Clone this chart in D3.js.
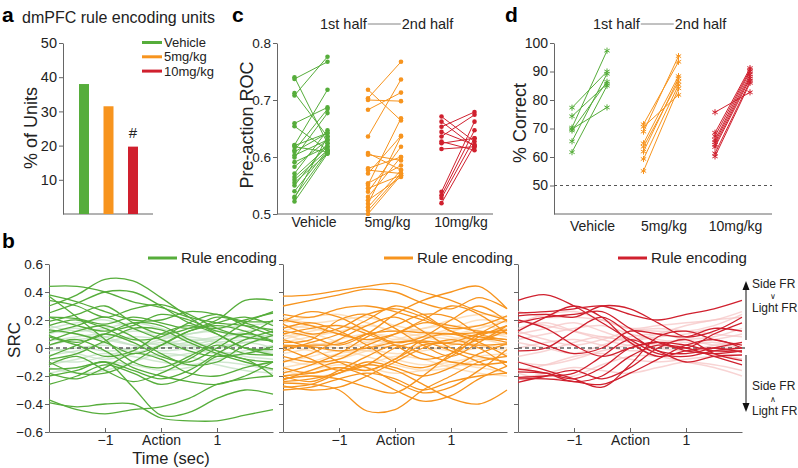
<!DOCTYPE html>
<html lang="en">
<head>
  <meta charset="UTF-8">
  <title>dmPFC rule encoding</title>
  <style>
  body { margin: 0; background: #fff; }
  svg { display: block; font-family: "Liberation Sans", Arial, Helvetica, sans-serif; }
  .axis path, .axis line { stroke: #666; }
  .axis text { fill: #222; }
  </style>
</head>
<body>
  <svg></svg>
  <script src="https://cdn.jsdelivr.net/npm/d3@7/dist/d3.min.js"></script>
  <script>
  var groups = ["Vehicle", "5mg/kg", "10mg/kg"];
  var colors = ["#56ad3b", "#f7941e", "#d0202e"];
  var faintColors = ["#c2e0c2", "#fcd6a8", "#f5c6c6"];

  // a: % of rule encoding units
  var unitPercent = [38, 31.5, 19.7];
  var unitTicks = [10, 20, 30, 40, 50];

  // c: pre-action ROC, 1st half vs 2nd half
  var rocTicks = [0.5, 0.6, 0.7, 0.8];
  var rocVehicleFirst = [0.740, 0.737, 0.712, 0.708, 0.659, 0.654, 0.621, 0.618, 0.609, 0.599, 0.591, 0.583, 0.571, 0.560, 0.555, 0.550, 0.530, 0.528, 0.522, 0.612, 0.565, 0.603, 0.540, 0.620];
  var rocVehicleSecond = [0.624, 0.767, 0.636, 0.776, 0.687, 0.612, 0.718, 0.609, 0.642, 0.677, 0.618, 0.630, 0.647, 0.612, 0.606, 0.624, 0.609, 0.636, 0.606, 0.684, 0.618, 0.630, 0.612, 0.642];
  var rocLowFirst = [0.718, 0.703, 0.700, 0.683, 0.636, 0.607, 0.604, 0.580, 0.577, 0.571, 0.554, 0.551, 0.545, 0.539, 0.530, 0.524, 0.518, 0.512, 0.506, 0.500];
  var rocLowSecond = [0.664, 0.767, 0.698, 0.713, 0.736, 0.577, 0.594, 0.600, 0.571, 0.637, 0.585, 0.668, 0.568, 0.618, 0.600, 0.565, 0.636, 0.577, 0.571, 0.568];
  var rocHighFirst = [0.671, 0.662, 0.653, 0.644, 0.636, 0.627, 0.624, 0.614, 0.539, 0.533, 0.528, 0.519];
  var rocHighSecond = [0.627, 0.618, 0.679, 0.621, 0.674, 0.612, 0.633, 0.618, 0.662, 0.647, 0.633, 0.621];

  // d: % correct, 1st half vs 2nd half
  var correctTicks = [50, 60, 70, 80, 90, 100];
  var correctVehicleFirst = [77.3, 74.3, 70.3, 69.8, 69.3, 65.5, 61.7];
  var correctVehicleSecond = [90.0, 85.7, 97.3, 77.4, 86.4, 89.2, 85.0];
  var correctLowFirst = [71.5, 70.6, 68.9, 64.8, 63.6, 61.9, 59.3, 55.1];
  var correctLowSecond = [93.4, 81.8, 95.4, 88.4, 86.4, 87.6, 85.3, 84.1];
  var correctHighFirst = [75.7, 68.5, 67.3, 66.0, 65.2, 64.3, 63.5, 61.3, 60.2];
  var correctHighSecond = [82.7, 91.2, 90.6, 90.0, 89.0, 88.2, 87.5, 86.6, 86.0];

  // b: SRC time courses (sec relative to action)
  var srcTimes = [-2, -1.5, -1, -0.5, 0, 0.5, 1, 1.5, 2];
  var srcTicks = [-0.6, -0.4, -0.2, 0, 0.2, 0.4, 0.6];
  var timeTicks = [-1, 0, 1];

  var vehicleRule = [
    [0.44, 0.44, 0.40, 0.33, 0.29, 0.22, 0.18, 0.16, 0.13],
    [0.30, 0.38, 0.49, 0.48, 0.36, 0.22, 0.10, 0.00, -0.05],
    [0.38, 0.33, 0.26, 0.20, 0.20, 0.26, 0.24, 0.19, 0.19],
    [0.34, 0.30, 0.22, 0.28, 0.31, 0.24, 0.14, 0.08, 0.05],
    [0.25, 0.32, 0.40, 0.40, 0.30, 0.18, 0.14, 0.20, 0.25],
    [0.22, 0.21, 0.17, 0.22, 0.18, 0.14, 0.20, 0.34, 0.34],
    [0.19, 0.24, 0.30, 0.18, 0.10, 0.14, 0.22, 0.18, 0.11],
    [0.13, 0.10, 0.04, -0.04, 0.02, 0.12, 0.18, 0.22, 0.16],
    [0.37, 0.22, 0.06, -0.10, -0.14, -0.06, 0.05, 0.18, 0.26],
    [0.11, 0.16, 0.22, 0.14, 0.06, -0.02, -0.06, -0.04, 0.01],
    [0.09, 0.04, 0.10, 0.18, 0.16, 0.06, -0.02, -0.08, -0.10],
    [0.05, 0.12, 0.16, 0.08, -0.04, -0.12, -0.10, 0.02, 0.09],
    [-0.08, -0.04, 0.05, 0.14, 0.13, 0.04, -0.04, -0.10, -0.15],
    [-0.10, -0.18, -0.18, -0.10, 0.02, 0.12, 0.16, 0.12, 0.04],
    [-0.15, -0.14, -0.10, -0.16, -0.22, -0.16, -0.04, 0.06, 0.12],
    [-0.18, -0.22, -0.14, -0.04, -0.08, -0.18, -0.20, -0.14, -0.10],
    [-0.26, -0.20, -0.12, -0.18, -0.26, -0.20, -0.06, -0.08, -0.20],
    [-0.12, -0.06, -0.16, -0.24, -0.18, -0.08, 0.02, -0.04, -0.05],
    [-0.37, -0.44, -0.47, -0.44, -0.42, -0.36, -0.26, -0.22, -0.20],
    [-0.39, -0.42, -0.40, -0.40, -0.50, -0.52, -0.52, -0.48, -0.44],
    [-0.20, -0.16, -0.10, -0.28, -0.48, -0.46, -0.36, -0.30, -0.33],
    [0.02, 0.06, -0.02, -0.14, -0.20, -0.24, -0.26, -0.20, -0.10],
    [0.08, 0.02, -0.06, -0.02, 0.10, 0.16, 0.10, 0.00, -0.01],
    [0.22, 0.16, 0.12, 0.16, 0.24, 0.20, 0.12, 0.10, 0.20],
    [-0.06, 0.02, 0.10, 0.04, -0.06, -0.10, 0.00, 0.10, 0.05],
    [0.16, 0.20, 0.14, 0.06, 0.08, 0.18, 0.24, 0.16, 0.09]
  ];
  var vehicleOther = [
    [0.05, 0.08, 0.10, 0.06, 0.02, 0.04, 0.08, 0.10, 0.08],
    [-0.05, -0.02, 0.04, 0.08, 0.06, 0.00, -0.04, -0.02, 0.02],
    [0.12, 0.10, 0.06, 0.02, 0.00, 0.02, 0.06, 0.12, 0.14],
    [-0.12, -0.08, -0.04, -0.06, -0.10, -0.12, -0.08, -0.04, -0.02],
    [0.00, -0.04, -0.08, -0.04, 0.02, 0.06, 0.04, 0.00, -0.04],
    [0.16, 0.12, 0.14, 0.18, 0.14, 0.08, 0.06, 0.08, 0.12],
    [-0.18, -0.14, -0.10, -0.12, -0.16, -0.14, -0.10, -0.12, -0.16],
    [0.08, 0.02, -0.02, 0.00, 0.06, 0.10, 0.12, 0.08, 0.06],
    [-0.08, -0.10, -0.06, 0.00, 0.04, 0.02, -0.02, -0.06, -0.08],
    [0.02, 0.06, 0.08, 0.12, 0.10, 0.06, 0.00, 0.04, 0.06],
    [-0.14, -0.18, -0.16, -0.10, -0.04, -0.06, -0.12, -0.16, -0.18],
    [0.10, 0.14, 0.08, 0.02, -0.02, 0.00, 0.04, 0.06, 0.10],
    [-0.02, 0.00, 0.02, -0.02, -0.06, -0.04, 0.00, 0.04, 0.00],
    [0.14, 0.18, 0.20, 0.14, 0.08, 0.10, 0.14, 0.16, 0.18]
  ];

  var lowDoseRule = [
    [0.37, 0.38, 0.41, 0.44, 0.46, 0.40, 0.34, 0.26, 0.20],
    [0.30, 0.34, 0.38, 0.42, 0.40, 0.32, 0.28, 0.36, 0.28],
    [0.12, 0.08, 0.02, 0.10, 0.24, 0.34, 0.40, 0.44, 0.28],
    [0.24, 0.22, 0.28, 0.30, 0.26, 0.20, 0.14, 0.16, 0.23],
    [0.19, 0.26, 0.22, 0.12, 0.04, 0.08, 0.20, 0.30, 0.19],
    [0.17, 0.10, 0.14, 0.24, 0.28, 0.22, 0.12, 0.06, 0.13],
    [0.04, 0.06, 0.20, 0.24, 0.14, 0.02, -0.06, 0.04, 0.16],
    [0.01, 0.02, 0.03, 0.10, 0.12, 0.11, 0.10, 0.11, 0.11],
    [0.02, 0.01, -0.02, 0.00, 0.04, 0.05, 0.03, 0.02, 0.03],
    [-0.18, -0.12, -0.04, 0.08, 0.16, 0.24, 0.22, 0.10, 0.06],
    [-0.20, -0.24, -0.16, -0.06, 0.02, -0.04, -0.10, -0.12, -0.10],
    [-0.22, -0.20, -0.22, -0.28, -0.32, -0.20, -0.04, 0.10, 0.20],
    [-0.25, -0.26, -0.30, -0.45, -0.44, -0.30, -0.20, -0.10, -0.06],
    [-0.27, -0.30, -0.28, -0.20, -0.10, 0.00, 0.06, 0.00, -0.13],
    [-0.28, -0.26, -0.18, -0.12, -0.16, -0.26, -0.36, -0.40, -0.30],
    [-0.30, -0.28, -0.22, -0.18, -0.22, -0.30, -0.24, -0.20, -0.18],
    [-0.23, -0.16, -0.10, -0.14, -0.24, -0.32, -0.28, -0.16, -0.01],
    [0.10, 0.14, 0.16, 0.10, 0.02, -0.08, -0.04, 0.06, 0.04],
    [0.14, 0.18, 0.12, 0.02, -0.10, -0.14, -0.06, 0.08, 0.16],
    [-0.06, -0.10, -0.08, 0.02, 0.10, 0.20, 0.30, 0.24, 0.10],
    [-0.14, -0.18, -0.14, -0.16, -0.08, 0.06, 0.10, 0.04, -0.06],
    [-0.10, -0.04, 0.06, 0.16, 0.22, 0.12, 0.00, -0.06, -0.10],
    [-0.24, -0.22, -0.18, -0.10, -0.14, -0.20, -0.14, -0.04, 0.03],
    [0.06, 0.00, -0.10, -0.16, -0.08, 0.02, 0.04, 0.10, 0.13],
    [-0.02, 0.04, 0.10, 0.20, 0.30, 0.24, 0.12, 0.08, 0.06],
    [0.00, -0.08, -0.16, -0.12, 0.00, 0.04, -0.02, -0.10, -0.18],
    [-0.20, -0.18, -0.14, -0.20, -0.30, -0.38, -0.34, -0.22, -0.13],
    [0.20, 0.16, 0.10, 0.06, 0.10, 0.18, 0.16, 0.12, 0.11]
  ];
  var lowDoseOther = [
    [0.08, 0.12, 0.16, 0.12, 0.06, 0.08, 0.12, 0.16, 0.12],
    [-0.04, 0.00, 0.06, 0.10, 0.08, 0.02, -0.02, 0.00, 0.04],
    [0.16, 0.14, 0.10, 0.06, 0.04, 0.08, 0.14, 0.20, 0.18],
    [-0.14, -0.10, -0.04, -0.02, -0.08, -0.12, -0.10, -0.06, -0.04],
    [0.02, -0.02, -0.06, 0.00, 0.06, 0.10, 0.08, 0.02, -0.02],
    [0.22, 0.18, 0.20, 0.22, 0.16, 0.12, 0.10, 0.14, 0.20],
    [-0.20, -0.16, -0.12, -0.14, -0.18, -0.16, -0.12, -0.14, -0.18],
    [0.10, 0.04, 0.00, 0.04, 0.10, 0.14, 0.16, 0.12, 0.08],
    [-0.08, -0.12, -0.08, -0.02, 0.04, 0.04, 0.00, -0.06, -0.10],
    [0.04, 0.08, 0.12, 0.16, 0.12, 0.08, 0.04, 0.08, 0.10],
    [-0.16, -0.20, -0.18, -0.12, -0.06, -0.08, -0.14, -0.18, -0.20],
    [0.12, 0.16, 0.10, 0.04, 0.00, 0.02, 0.06, 0.10, 0.14],
    [0.00, 0.02, 0.04, 0.00, -0.04, -0.02, 0.02, 0.06, 0.02],
    [0.18, 0.22, 0.24, 0.18, 0.12, 0.14, 0.20, 0.24, 0.22],
    [-0.10, -0.06, -0.02, -0.06, -0.12, -0.16, -0.14, -0.08, -0.06],
    [0.06, 0.10, 0.04, -0.02, 0.02, 0.08, 0.06, 0.02, 0.00]
  ];

  var highDoseRule = [
    [0.34, 0.38, 0.30, 0.18, 0.06, -0.04, -0.06, -0.02, 0.00],
    [0.25, 0.26, 0.28, 0.30, 0.24, 0.20, 0.24, 0.28, 0.34],
    [0.23, 0.24, 0.22, 0.30, 0.28, 0.18, 0.08, 0.12, 0.22],
    [0.18, 0.22, 0.24, 0.26, 0.14, 0.04, 0.00, 0.10, 0.18],
    [0.09, 0.02, -0.04, 0.00, 0.12, 0.10, 0.08, 0.14, 0.12],
    [-0.02, 0.00, 0.12, 0.22, 0.10, -0.02, -0.04, 0.00, 0.04],
    [-0.10, -0.16, -0.22, -0.28, -0.12, 0.08, 0.12, 0.06, 0.02],
    [-0.17, -0.18, -0.22, -0.14, 0.00, 0.04, -0.02, -0.04, -0.02],
    [-0.21, -0.20, -0.18, -0.06, 0.06, -0.02, -0.10, -0.06, -0.05],
    [-0.22, -0.22, -0.24, -0.26, -0.18, -0.08, 0.02, 0.06, 0.00],
    [-0.245, -0.20, -0.16, -0.22, -0.14, 0.00, 0.06, -0.04, -0.09],
    [0.12, 0.22, 0.30, 0.22, 0.04, -0.06, -0.02, 0.00, -0.03],
    [-0.15, -0.18, -0.24, -0.20, -0.06, 0.02, 0.00, -0.06, -0.12],
    [0.20, 0.14, 0.02, -0.06, 0.00, 0.04, 0.02, -0.02, -0.02]
  ];
  var highDoseOther = [
    [0.10, 0.14, 0.18, 0.12, 0.06, 0.08, 0.10, 0.14, 0.12],
    [-0.06, -0.02, 0.04, 0.08, 0.04, 0.00, -0.02, 0.02, 0.04],
    [0.20, 0.16, 0.12, 0.08, 0.06, 0.10, 0.16, 0.20, 0.22],
    [-0.16, -0.12, -0.06, -0.04, -0.08, -0.10, -0.08, -0.06, -0.08],
    [0.04, 0.00, -0.04, 0.02, 0.08, 0.10, 0.06, 0.02, 0.00],
    [0.26, 0.22, 0.22, 0.20, 0.14, 0.12, 0.12, 0.16, 0.24],
    [-0.22, -0.18, -0.14, -0.16, -0.18, -0.14, -0.10, -0.12, -0.16],
    [0.12, 0.06, 0.02, 0.06, 0.12, 0.14, 0.12, 0.10, 0.08],
    [-0.10, -0.12, -0.08, -0.02, 0.02, 0.02, -0.02, -0.04, -0.08],
    [0.06, 0.10, 0.14, 0.16, 0.10, 0.06, 0.04, 0.06, 0.10],
    [-0.18, -0.22, -0.20, -0.12, -0.06, -0.06, -0.10, -0.14, -0.20],
    [0.14, 0.18, 0.12, 0.06, 0.02, 0.04, 0.06, 0.08, 0.14],
    [0.00, 0.04, 0.06, 0.02, -0.02, 0.00, 0.02, 0.04, 0.00],
    [0.18, 0.24, 0.26, 0.20, 0.14, 0.16, 0.18, 0.20, 0.26]
  ];

  var rocPairs = [
    [rocVehicleFirst, rocVehicleSecond],
    [rocLowFirst, rocLowSecond],
    [rocHighFirst, rocHighSecond]
  ];
  var correctPairs = [
    [correctVehicleFirst, correctVehicleSecond],
    [correctLowFirst, correctLowSecond],
    [correctHighFirst, correctHighSecond]
  ];
  var ruleSets = [vehicleRule, lowDoseRule, highDoseRule];
  var otherSets = [vehicleOther, lowDoseOther, highDoseOther];

  var svg = d3.select("svg")
      .attr("width", 798)
      .attr("height", 468);
  svg.append("rect").attr("width", 798).attr("height", 468).attr("fill", "#fff");

  function styleAxis(g, size) {
    g.attr("font-family", null).attr("font-size", size);
    g.selectAll("path, line").attr("stroke", "#666");
    g.selectAll("text").attr("fill", "#222");
  }

  function panelLetter(letter, x, y) {
    svg.append("text").attr("x", x).attr("y", y)
      .attr("font-size", 21).attr("font-weight", "bold").text(letter);
  }

  function yLabel(text, x, y, size) {
    svg.append("text")
      .attr("transform", "translate(" + x + "," + y + ") rotate(-90)")
      .attr("text-anchor", "middle")
      .attr("font-size", size)
      .attr("fill", "#222")
      .text(text);
  }

  // ---------- a ----------
  panelLetter("a", 2, 22);
  svg.append("text").attr("x", 22).attr("y", 23).attr("font-size", 16).attr("fill", "#222")
    .text("dmPFC rule encoding units");

  var aY = d3.scaleLinear().domain([0, 50]).range([214, 43]);
  var aX = d3.scalePoint().domain(groups).range([84, 133]);

  svg.append("g").attr("transform", "translate(63,0)")
    .call(d3.axisLeft(aY).tickValues(unitTicks).tickSize(4).tickSizeOuter(0).tickPadding(2))
    .call(g => styleAxis(g, 14.5));
  svg.append("line").attr("x1", 63).attr("x2", 153).attr("y1", 214).attr("y2", 214)
    .attr("stroke", "#666");

  svg.selectAll(".bar")
    .data(unitPercent)
    .enter()
    .append("rect")
      .attr("class", "bar")
      .attr("x", (d, i) => aX(groups[i]) - 5)
      .attr("width", 10)
      .attr("y", d => aY(d))
      .attr("height", d => aY(0) - aY(d))
      .attr("fill", (d, i) => colors[i]);

  svg.append("text")
    .attr("x", aX(groups[2])).attr("y", aY(unitPercent[2]) - 9)
    .attr("text-anchor", "middle").attr("font-size", 15).attr("fill", "#222")
    .text("#");

  yLabel("% of Units", 37, 128, 18);

  groups.forEach(function(name, i) {
    var ly = 42.5 + i * 14.3;
    svg.append("line").attr("x1", 142).attr("x2", 162).attr("y1", ly).attr("y2", ly)
      .attr("stroke", colors[i]).attr("stroke-width", 3);
    svg.append("text").attr("x", 164).attr("y", ly + 4.5).attr("font-size", 13).attr("fill", "#222")
      .text(name);
  });

  // ---------- c & d (paired 1st/2nd half) ----------
  function halfHeader(x, y) {
    var t1 = svg.append("text").attr("x", x).attr("y", y).attr("font-size", 14.5).attr("fill", "#222")
      .text("1st half");
    var w = t1.node().getComputedTextLength();
    svg.append("line").attr("x1", x + w + 1).attr("x2", x + w + 34)
      .attr("y1", y - 5).attr("y2", y - 5).attr("stroke", "#666").attr("stroke-width", 0.8);
    svg.append("text").attr("x", x + w + 35).attr("y", y).attr("font-size", 14.5).attr("fill", "#222")
      .text("2nd half");
  }

  function pairedPanel(opts) {
    var y = d3.scaleLinear().domain(opts.domain).range([214, 43]);
    var x = d3.scalePoint().domain(groups).range(opts.centers);
    var off = opts.offset;

    svg.append("g").attr("transform", "translate(" + opts.axisX + ",0)")
      .call(d3.axisLeft(y).tickValues(opts.ticks).tickFormat(opts.format).tickSize(4).tickSizeOuter(0).tickPadding(2))
      .call(g => styleAxis(g, opts.tickSize));
    svg.append("line").attr("x1", opts.axisX).attr("x2", opts.axisEnd).attr("y1", 214).attr("y2", 214)
      .attr("stroke", "#666");

    if (opts.chance !== undefined) {
      svg.append("line").attr("x1", opts.axisX).attr("x2", opts.axisEnd)
        .attr("y1", y(opts.chance)).attr("y2", y(opts.chance))
        .attr("stroke", "#555").attr("stroke-dasharray", "3,3");
    }

    opts.pairs.forEach(function(pair, gi) {
      var cx = x(groups[gi]);
      var g = svg.append("g");
      var rows = pair[0].map((v, k) => ({ a: v, b: pair[1][k] }));
      g.selectAll("line")
        .data(rows)
        .enter()
        .append("line")
          .attr("x1", cx - off).attr("x2", cx + off)
          .attr("y1", d => y(d.a)).attr("y2", d => y(d.b))
          .attr("stroke", colors[gi]).attr("stroke-width", 1);
      var pts = [];
      rows.forEach(function(d) { pts.push([cx - off, y(d.a)]); pts.push([cx + off, y(d.b)]); });
      if (opts.star) {
        g.selectAll("path")
          .data(pts)
          .enter()
          .append("path")
            .attr("transform", d => "translate(" + d[0] + "," + d[1] + ")")
            .attr("d", d3.symbol(d3.symbolAsterisk, 26))
            .attr("fill", "none").attr("stroke", colors[gi]).attr("stroke-width", 1);
      } else {
        g.selectAll("circle")
          .data(pts)
          .enter()
          .append("circle")
            .attr("cx", d => d[0]).attr("cy", d => d[1]).attr("r", 2.3)
            .attr("fill", colors[gi]);
      }
      svg.append("text").attr("x", cx + 3).attr("y", opts.labelY)
        .attr("text-anchor", "middle").attr("font-size", 14).attr("fill", "#222")
        .text(groups[gi]);
    });
  }

  panelLetter("c", 232, 22);
  halfHeader(320, 29);
  pairedPanel({
    domain: [0.5, 0.8], ticks: rocTicks, format: d3.format(".1f"), tickSize: 13.5,
    axisX: 277, axisEnd: 493, centers: [311, 458], offset: 16.5,
    pairs: rocPairs, star: false, labelY: 227
  });
  yLabel("Pre-action ROC", 253, 125, 18);

  panelLetter("d", 505, 22);
  halfHeader(593, 29);
  pairedPanel({
    domain: [40, 100], ticks: correctTicks, format: d3.format("d"), tickSize: 14,
    axisX: 554, axisEnd: 772, centers: [589.5, 732.5], offset: 17.5,
    pairs: correctPairs, star: true, labelY: 231, chance: 50
  });
  yLabel("% Correct", 526, 123, 18);

  // ---------- b ----------
  panelLetter("b", 2, 248);
  var bY = d3.scaleLinear().domain([-0.6, 0.6]).range([432, 264]);
  var panelLeft = [49, 283, 518];

  panelLeft.forEach(function(x0, i) {
    var bX = d3.scaleLinear().domain([-2, 2]).range([x0, x0 + 224]);
    var line = d3.line()
      .x((d, k) => bX(srcTimes[k]))
      .y(d => bY(d))
      .curve(d3.curveCatmullRom.alpha(0.5));

    svg.append("g").attr("transform", "translate(" + x0 + ",0)")
      .call(d3.axisLeft(bY).tickValues(srcTicks).tickSize(4).tickSizeOuter(0).tickPadding(2)
        .tickFormat(i === 0 ? (d => d === 0 ? "0" : d3.format(".1f")(d)) : ""))
      .call(g => styleAxis(g, 13.5));

    svg.append("g").attr("transform", "translate(0,432)")
      .call(d3.axisBottom(bX).tickValues(timeTicks).tickSizeInner(-4).tickSizeOuter(0).tickPadding(3)
        .tickFormat(d => d === 0 ? "Action" : d3.format("d")(d)))
      .call(g => styleAxis(g, 14));

    svg.append("g")
      .selectAll("path")
      .data(otherSets[i])
      .enter()
      .append("path")
        .attr("d", line)
        .attr("fill", "none")
        .attr("stroke", faintColors[i])
        .attr("stroke-opacity", 0.75)
        .attr("stroke-width", 1.5);

    svg.append("line")
      .attr("x1", x0).attr("x2", i === 2 ? 745 : x0 + 224)
      .attr("y1", bY(0)).attr("y2", bY(0))
      .attr("stroke", "#111").attr("stroke-dasharray", "4,3");

    svg.append("g")
      .selectAll("path")
      .data(ruleSets[i])
      .enter()
      .append("path")
        .attr("d", line)
        .attr("fill", "none")
        .attr("stroke", colors[i])
        .attr("stroke-width", 1.3);

    var lx = [148, 384, 618][i];
    svg.append("line").attr("x1", lx).attr("x2", lx + 29).attr("y1", 258).attr("y2", 258)
      .attr("stroke", colors[i]).attr("stroke-width", 3);
    svg.append("text").attr("x", lx + 33).attr("y", 263).attr("font-size", 15).attr("fill", "#222")
      .text("Rule encoding");
  });

  svg.append("text").attr("x", 171).attr("y", 464).attr("text-anchor", "middle")
    .attr("font-size", 16.5).attr("fill", "#222").text("Time (sec)");
  yLabel("SRC", 20, 340, 17);

  // direction arrows
  svg.append("line").attr("x1", 746).attr("x2", 746).attr("y1", 288).attr("y2", 340).attr("stroke", "#111");
  svg.append("path").attr("d", "M746,281L742.5,290L749.5,290Z").attr("fill", "#111");
  svg.append("line").attr("x1", 746).attr("x2", 746).attr("y1", 355).attr("y2", 405).attr("stroke", "#111");
  svg.append("path").attr("d", "M746,412L742.5,403L749.5,403Z").attr("fill", "#111");

  var arrowText = [
    ["Side FR", 288, 12], ["\u2228", 299, 8], ["Light FR", 312, 12],
    ["Side FR", 390, 12], ["\u2227", 402, 8], ["Light FR", 415, 12]
  ];
  arrowText.forEach(function(d) {
    svg.append("text")
      .attr("x", d[0].length === 1 ? 773 : 752)
      .attr("y", d[1])
      .attr("text-anchor", d[0].length === 1 ? "middle" : "start")
      .attr("font-size", d[2])
      .attr("fill", "#222")
      .text(d[0]);
  });
  </script>
</body>
</html>
